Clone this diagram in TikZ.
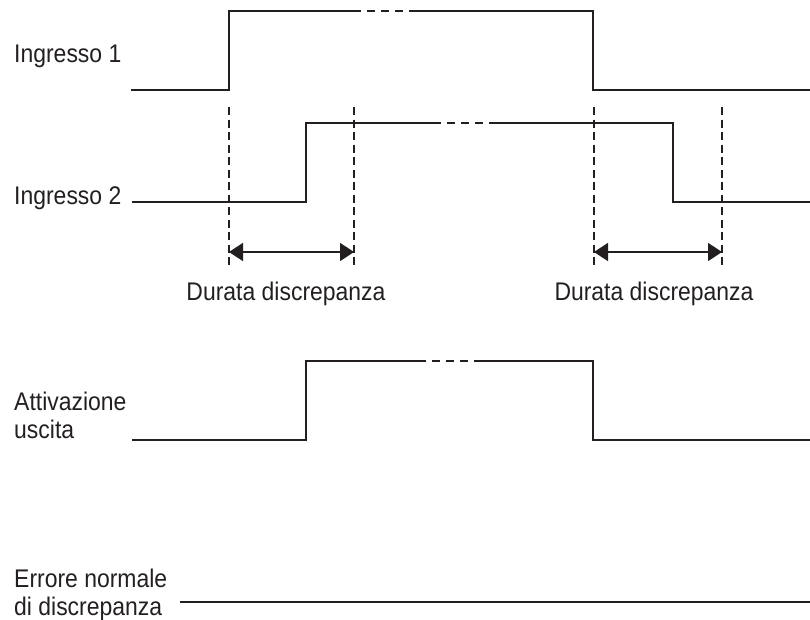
\documentclass[tikz,border=0pt]{standalone}
\usepackage{fontspec}
\setmainfont{Liberation Sans}[FakeStretch=0.9]
\usetikzlibrary{arrows.meta}
\definecolor{ink}{HTML}{231F20}
\begin{document}
\begin{tikzpicture}[x=1pt,y=-1pt,
  sig/.style={line width=1.7pt, draw=ink, line join=miter},
  gapline/.style={line width=1.7pt, draw=ink, dash pattern=on 8pt off 6pt},
  guide/.style={line width=1.1pt, draw=ink, dash pattern=on 8pt off 4.5pt},
  lbl/.style={font=\fontsize{25.5}{28}\selectfont, text=ink, anchor=base west, inner sep=0pt},
  durlbl/.style={font=\fontsize{25.5}{28}\selectfont, text=ink, anchor=base, inner sep=0pt},
  dur/.style={line width=1.7pt, draw=ink,
    {Triangle[length=14pt,width=18pt]}-{Triangle[length=14pt,width=18pt]}}]
\useasboundingbox (0,0) rectangle (810,619);

% labels
\node[lbl] (in1) at (14,62) {Ingresso 1};
\node[lbl] (in2) at (14,204) {Ingresso 2};
\node[lbl] (att1) at (14,410) {Attivazione};
\node[lbl] (att2) at (14,438) {uscita};
\node[lbl] (err1) at (14,587) {Errore normale};
\node[lbl] (err2) at (14,615) {di discrepanza};

% Ingresso 1
\draw[sig] (131,90) -- (229,90) -- (229,11) -- (353,11);
\draw[gapline] (353,11) -- (417,11);
\draw[sig] (417,11) -- (593,11) -- (593,90) -- (810,90);

% Ingresso 2
\draw[sig] (132,202) -- (306,202) -- (306,123) -- (433,123);
\draw[gapline] (433,123) -- (497,123);
\draw[sig] (497,123) -- (673,123) -- (673,202) -- (810,202);

% guides
\coordinate (g1t) at (229,107); \coordinate (g1b) at (229,265);
\coordinate (g2t) at (354,107); \coordinate (g2b) at (354,265);
\coordinate (g3t) at (594,107); \coordinate (g3b) at (594,265);
\coordinate (g4t) at (722,107); \coordinate (g4b) at (722,265);
\draw[guide] (g1t) -- (g1b);
\draw[guide] (g2t) -- (g2b);
\draw[guide] (g3t) -- (g3b);
\draw[guide] (g4t) -- (g4b);

% discrepancy arrows
\coordinate (a1) at (229,252); \coordinate (a2) at (354,252);
\coordinate (a3) at (594,252); \coordinate (a4) at (722,252);
\draw[dur] (a1) -- (a2);
\draw[dur] (a3) -- (a4);
\node[durlbl] (d1) at (286,300) {Durata discrepanza};
\node[durlbl] (d2) at (654,300) {Durata discrepanza};

% Attivazione uscita
\draw[sig] (132,440) -- (306,440) -- (306,361) -- (418,361);
\draw[gapline] (418,361) -- (482,361);
\draw[sig] (482,361) -- (593,361) -- (593,440) -- (810,440);

% Errore normale di discrepanza
\draw[sig] (180,602) -- (810,602);
\end{tikzpicture}
\end{document}
